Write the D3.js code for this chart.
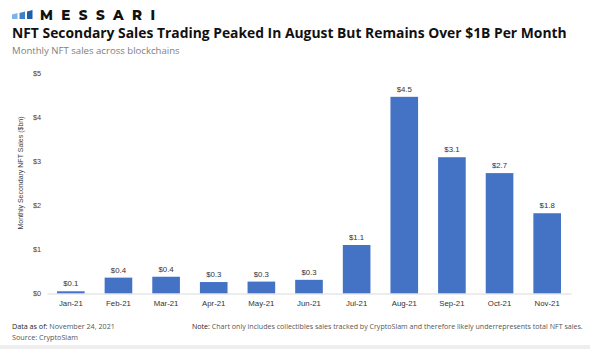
<!DOCTYPE html>
<html>
<head>
<meta charset="utf-8">
<script src="https://cdn.jsdelivr.net/npm/d3@7"></script>
<style>
  body { margin: 0; background: #fff; }
  svg { display: block; }
</style>
</head>
<body>
<div id="vis"></div>
<script>
// monthly NFT secondary sales, $bn
const months = ['Jan-21', 'Feb-21', 'Mar-21', 'Apr-21', 'May-21', 'Jun-21',
                'Jul-21', 'Aug-21', 'Sep-21', 'Oct-21', 'Nov-21'];
const sales = [0.05, 0.36, 0.38, 0.26, 0.27, 0.31, 1.10, 4.46, 3.09, 2.73, 1.82];
const yTicks = [0, 1, 2, 3, 4, 5];

const width = 590;
const height = 349;
const margin = { top: 73, right: 19, bottom: 55, left: 47 };

const svg = d3.select('#vis')
  .append('svg')
  .attr('width', width)
  .attr('height', height);

// fit a text element to a given width by scaling its font size
function fitWidth(sel, w) {
  const node = sel.node();
  const size = parseFloat(sel.attr('font-size'));
  const len = node.getComputedTextLength();
  sel.attr('font-size', size * w / len);
}

// header: logo, title, subtitle
const logo = svg.append('g').attr('transform', 'translate(12,10)');
const logoBars = [0, 7.5, 15];
logo.selectAll('path')
  .data(logoBars)
  .enter().append('path')
  .attr('d', (d, i) => {
    const top = [3, 1.5, 0][i];
    return 'M' + d + ',' + (top + 1.5) + 'L' + (d + 5.5) + ',' + top + 'L' + (d + 5.5) + ',9L' + d + ',9Z';
  })
  .attr('fill', (d, i) => ['#7db3e6', '#3d82c9', '#1f5fa8'][i]);

svg.append('text')
  .attr('x', 40)
  .attr('y', 19.5)
  .attr('font-family', 'Montserrat, "Open Sans", sans-serif')
  .attr('font-weight', 800)
  .attr('font-size', 13.5)
  .attr('fill', '#111')
  .attr('textLength', 115)
  .attr('lengthAdjust', 'spacing')
  .text('MESSARI');

const title = svg.append('text')
  .attr('x', 12)
  .attr('y', 38)
  .attr('font-family', '"Open Sans", sans-serif')
  .attr('font-weight', 700)
  .attr('font-size', 13)
  .attr('fill', '#111')
  .text('NFT Secondary Sales Trading Peaked In August But Remains Over $1B Per Month');
fitWidth(title, 555);

svg.append('text')
  .attr('x', 12)
  .attr('y', 53.5)
  .attr('font-family', '"Open Sans", sans-serif')
  .attr('font-size', 9.6)
  .attr('fill', '#808080')
  .text('Monthly NFT sales across blockchains');

// scales
const x = d3.scaleBand()
  .domain(months)
  .range([margin.left, width - margin.right])
  .paddingInner(0.42)
  .paddingOuter(0.21);

const y = d3.scaleLinear()
  .domain([0, 5])
  .range([height - margin.bottom - 0.5, margin.top]);

const fmt = d3.format('.1f');

// y axis labels only
const yAxis = svg.append('g')
  .attr('transform', 'translate(' + (margin.left - 6) + ',0)')
  .call(d3.axisLeft(y).tickValues(yTicks).tickSize(0).tickPadding(0).tickFormat(d => '$' + d));
yAxis.select('.domain').remove();
yAxis.selectAll('text')
  .attr('font-family', '"Liberation Sans", Arial, sans-serif')
  .attr('font-size', 7.3)
  .attr('fill', '#404040');

svg.append('text')
  .attr('transform', 'translate(22.5,' + 173 + ') rotate(-90)')
  .attr('text-anchor', 'middle')
  .attr('font-family', '"Liberation Sans", Arial, sans-serif')
  .attr('font-size', 7)
  .attr('fill', '#404040')
  .text('Monthly Secondary NFT Sales ($bn)');

// bars
svg.selectAll('.bar')
  .data(sales)
  .enter().append('rect')
  .classed('bar', true)
  .attr('x', (d, i) => x(months[i]))
  .attr('width', x.bandwidth())
  .attr('y', d => y(d))
  .attr('height', d => y(0) - y(d))
  .attr('fill', '#4472c4');

// value labels
svg.selectAll('.value')
  .data(sales)
  .enter().append('text')
  .classed('value', true)
  .attr('x', (d, i) => x(months[i]) + x.bandwidth() / 2)
  .attr('y', d => y(d) - 5)
  .attr('text-anchor', 'middle')
  .attr('font-family', '"Liberation Sans", Arial, sans-serif')
  .attr('font-size', 7.8)
  .attr('fill', '#333')
  .text(d => '$' + fmt(d));

// x axis
const xAxis = svg.append('g')
  .attr('transform', 'translate(0,' + y(0) + ')')
  .call(d3.axisBottom(x).tickSize(0).tickPadding(7));
xAxis.select('.domain').attr('stroke', '#d9d9d9');
xAxis.selectAll('text')
  .attr('font-family', '"Liberation Sans", Arial, sans-serif')
  .attr('font-size', 7.8)
  .attr('fill', '#333');

// footer
const foot = svg.append('g')
  .attr('font-family', '"Open Sans", sans-serif')
  .attr('fill', '#555');

const asOf = foot.append('text').attr('x', 12).attr('y', 329).attr('font-size', 8);
asOf.append('tspan').attr('fill', '#222').text('Data as of: ');
asOf.append('tspan').text('November 24, 2021');
fitWidth(asOf, 103);

const source = foot.append('text').attr('x', 12).attr('y', 340).attr('font-size', 8)
  .text('Source: CryptoSlam');
fitWidth(source, 66);

const note = foot.append('text').attr('x', 192).attr('y', 329).attr('font-size', 8);
note.append('tspan').attr('fill', '#222').text('Note: ');
note.append('tspan').text('Chart only includes collectibles sales tracked by CryptoSlam and therefore likely underrepresents total NFT sales.');
fitWidth(note, 391);

svg.append('rect')
  .attr('x', 0)
  .attr('y', 345)
  .attr('width', width)
  .attr('height', 4)
  .attr('fill', '#eeeeee');
</script>
</body>
</html>
